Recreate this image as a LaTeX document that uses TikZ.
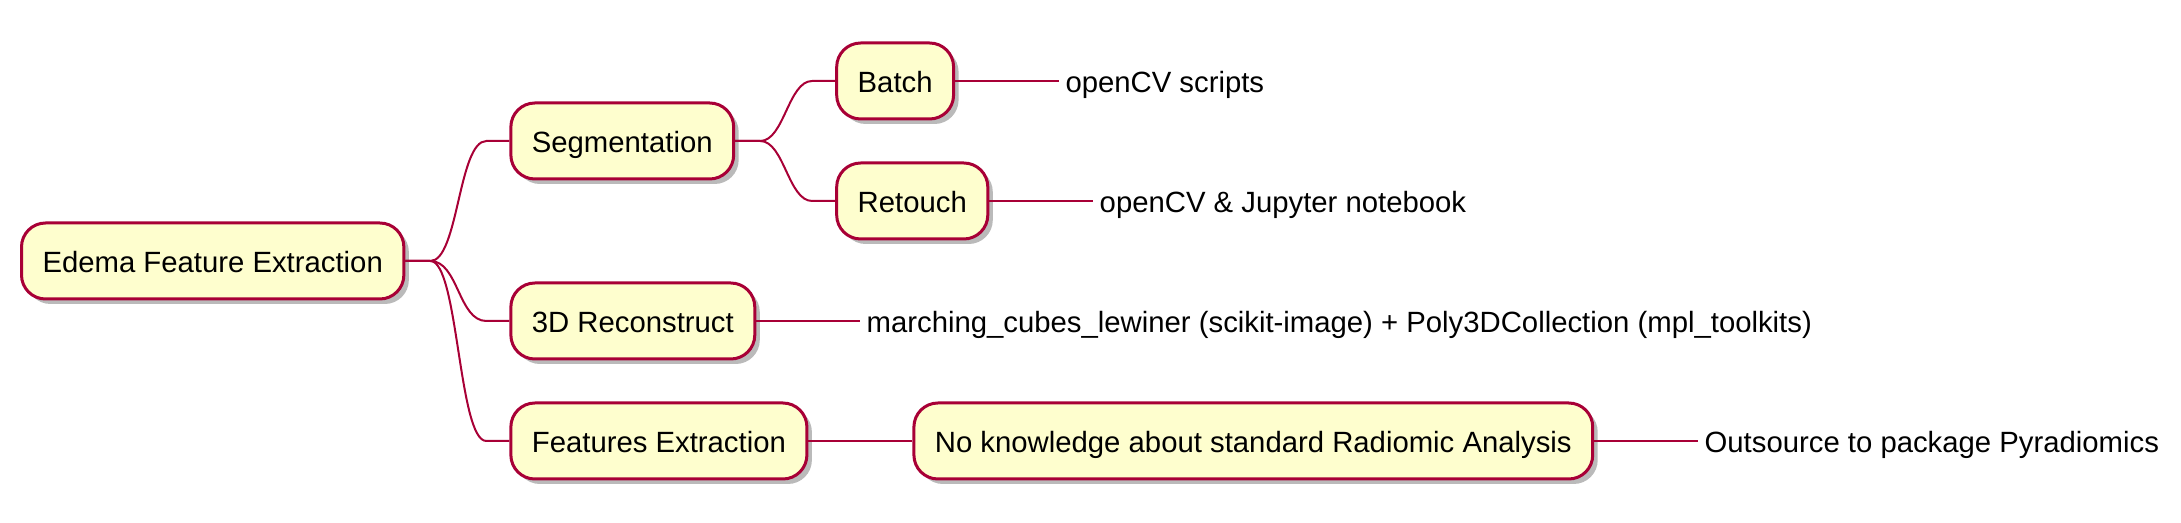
\documentclass[tikz,border=0pt]{standalone}
\usepackage{fontspec}
\setmainfont{Liberation Sans}
\usetikzlibrary{positioning,shadows}
\definecolor{mapfill}{HTML}{FEFECE}
\definecolor{mapline}{HTML}{A80036}

\begin{document}
\begin{tikzpicture}[
    every node/.style={font=\fontsize{14.65pt}{17pt}\selectfont,
                       text height=14.8pt, text depth=3.1pt},
    box/.style ={draw=mapline, fill=mapfill, rounded corners=12pt,
                 line width=1.5pt, minimum height=38pt, inner xsep=10.5pt,
                 drop shadow={shadow xshift=2.5pt, shadow yshift=-2.5pt,
                              opacity=0.45, fill=black!60}},
    leaf/.style={inner xsep=3pt, inner ysep=0pt},
    link/.style={draw=mapline, line width=1pt}
  ]
  \useasboundingbox (0,0) rectangle (1090.5pt,-261.5pt);
  \node[box, anchor=west] (root) at (10pt,-130.5pt) {Edema Feature Extraction};
  \node[box, right=52pt of root, yshift=60pt]   (seg)     {Segmentation};
  \node[box, right=52pt of root, yshift=-30pt]  (rec)     {3D Reconstruct};
  \node[box, right=52pt of root, yshift=-90pt]  (feat)    {Features Extraction};
  \node[box, right=50pt of seg, yshift=30pt]    (batch)   {Batch};
  \node[box, right=50pt of seg, yshift=-30pt]   (retouch) {Retouch};
  \node[box, right=52pt of feat]                (radio)   {No knowledge about standard Radiomic Analysis};
  \node[leaf, right=52pt of batch]   (cvbatch) {openCV scripts};
  \node[leaf, right=52pt of retouch] (cvjup)   {openCV \& Jupyter notebook};
  \node[leaf, right=52pt of rec]     (march)   {marching\_cubes\_lewiner (scikit-image) + Poly3DCollection (mpl\_toolkits)};
  \node[leaf, right=52pt of radio]   (pyrad)   {Outsource to package Pyradiomics};
  \draw[link] (root.east) -- ++(12.5pt,0) .. controls +(14pt,0) and +(-14pt,0) .. ([xshift=-11.5pt]seg.west) -- (seg.west);
  \draw[link] (root.east) -- ++(12.5pt,0) .. controls +(14pt,0) and +(-14pt,0) .. ([xshift=-11.5pt]rec.west) -- (rec.west);
  \draw[link] (root.east) -- ++(12.5pt,0) .. controls +(14pt,0) and +(-14pt,0) .. ([xshift=-11.5pt]feat.west) -- (feat.west);
  \draw[link] (seg.east) -- ++(12.5pt,0) .. controls +(12pt,0) and +(-12pt,0) .. ([xshift=-11.5pt]batch.west) -- (batch.west);
  \draw[link] (seg.east) -- ++(12.5pt,0) .. controls +(12pt,0) and +(-12pt,0) .. ([xshift=-11.5pt]retouch.west) -- (retouch.west);
  \draw[link] (feat)    -- (radio);
  \draw[link] (batch)   -- (cvbatch);
  \draw[link] (retouch) -- (cvjup);
  \draw[link] (rec)     -- (march);
  \draw[link] (radio)   -- (pyrad);
\end{tikzpicture}
\end{document}
